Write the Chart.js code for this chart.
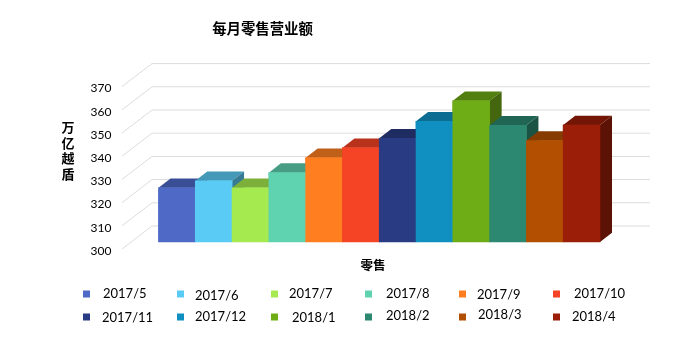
<!DOCTYPE html>
<html>
<head>
<meta charset="utf-8">
<title>每月零售营业额</title>
<script src="https://cdn.jsdelivr.net/npm/chart.js@4/dist/chart.umd.min.js"></script>
<style>
    html, body { margin: 0; padding: 0; background: #fff; }
    canvas { display: block; }
</style>
</head>
<body>
<canvas id="chart" width="684" height="361"></canvas>
<script>
const categories = ['零售'];
const months = ['2017/5', '2017/6', '2017/7', '2017/8', '2017/9', '2017/10',
                '2017/11', '2017/12', '2018/1', '2018/2', '2018/3', '2018/4'];
const sales = [323.4, 326.4, 323.4, 329.9, 336.3, 340.6, 344.7, 352, 360.9, 350.3, 343.7, 350.4];
const yTicks = [300, 310, 320, 330, 340, 350, 360, 370];

// front, top and side face of every bar
const frontColors = ['#4f69c6', '#5acbf4', '#a5ea4f', '#5fd2b0', '#ff7f20', '#f54325',
                     '#293b82', '#1090c1', '#6fad17', '#2c8870', '#b34f00', '#9a1e08'];
const topColors = ['#3a4e96', '#4498b8', '#7cb03b', '#479d84', '#bf5f18', '#b8321c',
                   '#1f2c62', '#0c6c91', '#537f11', '#216654', '#863b00', '#741606'];
const sideColors = ['#2f3f77', '#367a93', '#638d2f', '#397e6a', '#994c13', '#932816',
                    '#18234e', '#0a5674', '#43660e', '#1a5243', '#6b2f00', '#5c1205'];

const FONT_LATIN = 'Lato, "Open Sans", sans-serif';
const FONT_CJK = '"Noto Sans CJK SC", sans-serif';

// fake depth of the bars and of the walls behind them
const BAR_DX = 12, BAR_DY = 9.3;
const WALL_LEFT = 122, WALL_BACK = 152, WALL_RIGHT = 650;
const WALL_FRONT_DY = 7, WALL_BACK_DY = -16;

// legend layout: marker columns and each label's own place, as in the picture
const legendMarkerX = [83, 177, 271, 365, 459, 553];
const legendMarkerY = [294, 317];
const legendTextX = [103, 195, 289, 386, 477, 574, 102, 195, 292, 386, 478, 572];
const legendTextY = [294, 296, 294, 294, 295, 294, 318, 317, 318, 316, 315, 317];

const wallPlugin = {
    id: 'wall',
    beforeDatasetsDraw(chart) {
        const ctx = chart.ctx;
        const y = chart.scales.y;
        ctx.save();
        ctx.strokeStyle = '#dcdcdc';
        ctx.lineWidth = 1;
        yTicks.forEach(v => {
            const py = y.getPixelForValue(v);
            ctx.beginPath();
            ctx.moveTo(WALL_LEFT, py + WALL_FRONT_DY);
            ctx.lineTo(WALL_BACK, py + WALL_BACK_DY);
            ctx.lineTo(WALL_RIGHT, py + WALL_BACK_DY);
            ctx.stroke();
        });
        ctx.restore();
    }
};

// Chart.js paints datasets last to first, the 3d look needs first to last,
// so each bar gets its faces and is painted again here
const bar3dPlugin = {
    id: 'bar3d',
    afterDatasetsDraw(chart) {
        const ctx = chart.ctx;
        chart.data.datasets.forEach((ds, i) => {
            const bar = chart.getDatasetMeta(i).data[0];
            const left = bar.x - bar.width / 2;
            const right = bar.x + bar.width / 2;
            ctx.save();
            ctx.fillStyle = topColors[i];
            ctx.beginPath();
            ctx.moveTo(left, bar.y);
            ctx.lineTo(left + BAR_DX, bar.y - BAR_DY);
            ctx.lineTo(right + BAR_DX, bar.y - BAR_DY);
            ctx.lineTo(right, bar.y);
            ctx.closePath();
            ctx.fill();
            ctx.fillStyle = sideColors[i];
            ctx.beginPath();
            ctx.moveTo(right, bar.y);
            ctx.lineTo(right + BAR_DX, bar.y - BAR_DY);
            ctx.lineTo(right + BAR_DX, bar.base - BAR_DY);
            ctx.lineTo(right, bar.base);
            ctx.closePath();
            ctx.fill();
            ctx.restore();
            bar.draw(ctx);
        });
    }
};

const textPlugin = {
    id: 'texts',
    afterDraw(chart) {
        const ctx = chart.ctx;
        ctx.save();
        ctx.fillStyle = '#000';
        ctx.textBaseline = 'middle';
        ctx.textAlign = 'center';

        ctx.font = 'bold 14.4px ' + FONT_CJK;
        ctx.fillText('每月零售营业额', 262.5, 29);

        ctx.font = 'bold 12.5px ' + FONT_CJK;
        ctx.fillText(categories[0], 373, 265);
        ctx.font = 'bold 13px ' + FONT_CJK;
        ['万', '亿', '越', '盾'].forEach((ch, i) => {
            ctx.fillText(ch, 68, 127 + i * 15.7);
        });

        ctx.textAlign = 'left';
        ctx.font = '13px ' + FONT_LATIN;
        chart.data.datasets.forEach((ds, i) => {
            const col = i % 6;
            const row = Math.floor(i / 6);
            ctx.fillStyle = ds.backgroundColor;
            ctx.fillRect(legendMarkerX[col], legendMarkerY[row] - 3.5, 7, 7);
            ctx.fillStyle = '#000';
            ctx.fillText(ds.label, legendTextX[i], legendTextY[i]);
        });
        ctx.restore();
    }
};

new Chart(document.getElementById('chart'), {
    type: 'bar',
    data: {
        labels: categories,
        datasets: months.map((m, i) => ({
            label: m,
            data: [sales[i]],
            base: 300,
            backgroundColor: frontColors[i],
            barPercentage: 1,
            categoryPercentage: 1
        }))
    },
    options: {
        responsive: false,
        animation: false,
        layout: { padding: { top: 79.6, right: 84, bottom: 119, left: 0 } },
        plugins: {
            legend: { display: false },
            title: { display: false },
            tooltip: { enabled: false }
        },
        scales: {
            x: { display: false },
            y: {
                min: 300,
                max: 370,
                afterFit(scale) { scale.width = 158.5; },
                grid: { display: false },
                border: { display: false },
                ticks: {
                    stepSize: 10,
                    padding: 39,
                    labelOffset: WALL_FRONT_DY + 2,
                    color: '#000',
                    font: { family: FONT_LATIN, size: 12 }
                }
            }
        }
    },
    plugins: [wallPlugin, bar3dPlugin, textPlugin]
});
</script>
</body>
</html>
